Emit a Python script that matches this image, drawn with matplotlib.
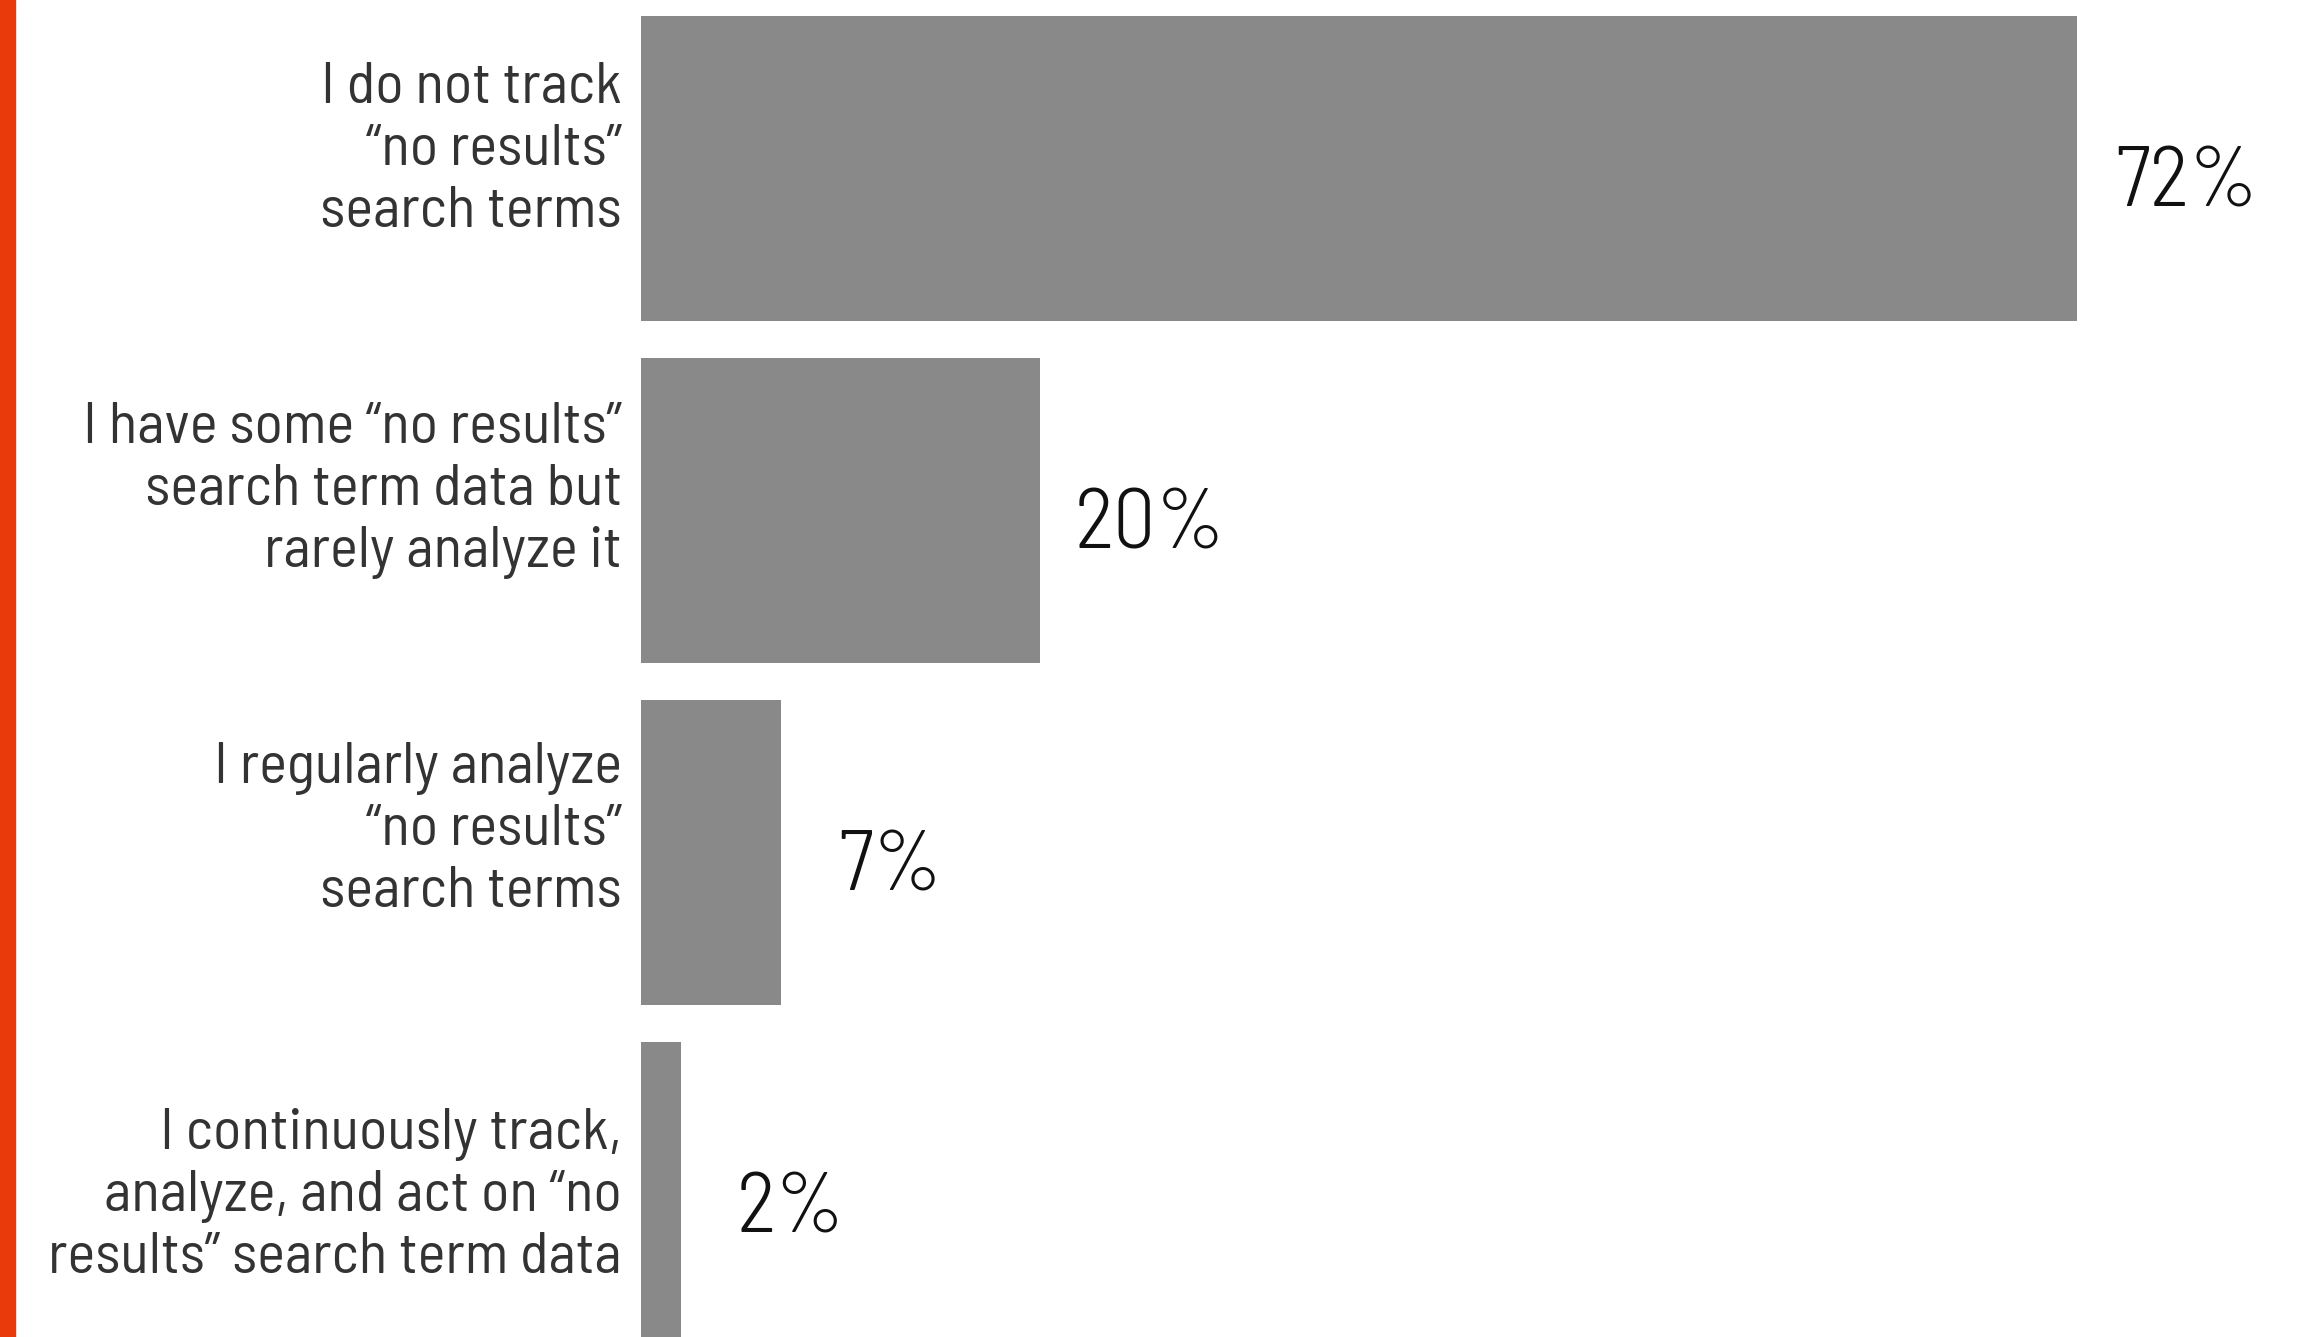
import matplotlib.pyplot as plt
from matplotlib.patches import Rectangle

plt.rcParams['font.family'] = ['Barlow Semi Condensed', 'DejaVu Sans']

# --- data ---
categories = [
    'I do not track\n\u201cno results\u201d\nsearch terms',
    'I have some \u201cno results\u201d\nsearch term data but\nrarely analyze it',
    'I regularly analyze\n\u201cno results\u201d\nsearch terms',
    'I continuously track,\nanalyze, and act on \u201cno\nresults\u201d search term data',
]
values = [72, 20, 7, 2]
value_labels = ['72%', '20%', '7%', '2%']

# vertical nudge of category labels (pixels, positive = up)
label_nudge = [18, 20, 22, -2]


def main():
    bar_color = '#898989'
    accent = '#E83A0A'

    fig = plt.figure(figsize=(23.1, 13.37), dpi=100)
    ax = fig.add_axes([641 / 2310, 0, 1 - 641 / 2310, 1])

    ypos = list(range(len(values)))
    ax.barh(ypos, values, height=0.89, color=bar_color)

    ax.set_xlim(0, 83.7)
    ax.set_ylim(3.4166, -0.4927)
    ax.axis('off')

    for i, (cat, v, lab) in enumerate(zip(categories, values, value_labels)):
        ax.annotate(cat, xy=(0, i), xytext=(-19, label_nudge[i]),
                    textcoords='offset pixels', ha='right', va='center',
                    multialignment='right', fontsize=42.5, fontweight=400,
                    color='#333333', linespacing=1.22, annotation_clip=False)
        ax.annotate(lab, xy=(v, i), xytext=(110, -16),
                    textcoords='offset pixels', ha='center', va='center',
                    fontsize=61, fontweight=300, color='#111111',
                    annotation_clip=False)

    # orange accent stripe on the left edge
    fig.patches.append(Rectangle((0, 0), 15 / 2310, 1, transform=fig.transFigure,
                                 color=accent, zorder=0))

    fig.savefig('out.png', dpi=100)


if __name__ == '__main__':
    main()
